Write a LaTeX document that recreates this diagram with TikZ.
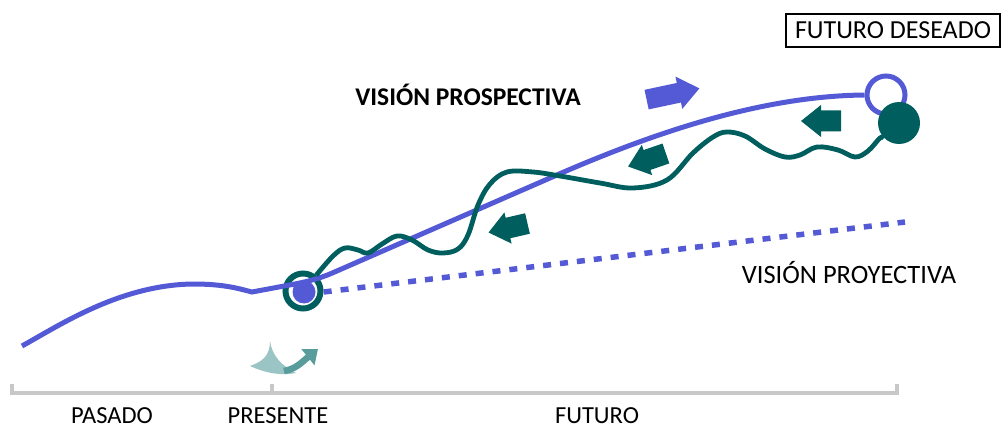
\documentclass[tikz,border=0pt]{standalone}
\usepackage{fontspec}
\setmainfont{Carlito}
\usetikzlibrary{arrows.meta}
\definecolor{vblue}{RGB}{84,90,214}
\definecolor{vteal}{RGB}{0,94,94}
\definecolor{lteal}{RGB}{155,196,196}
\definecolor{mteal}{RGB}{88,156,156}
\definecolor{tgray}{RGB}{200,200,200}
\begin{document}
\begin{tikzpicture}[x=1pt,y=-1pt,
  bluepath/.style={draw=vblue,line width=5pt},
  tealpath/.style={draw=vteal,line width=4.8pt},
  lbl/.style={font=\fontsize{24.5}{28}\selectfont, inner sep=0pt},
  greenarrow/.pic={\fill[vteal] (-20,-10.5) -- (0,-10.5) -- (0,-16) -- (20,0) -- (0,16) -- (0,10.5) -- (-20,10.5) -- cycle;},
  bluearrow/.pic={\fill[vblue] (-27,-10) -- (6,-10) -- (6,-16.5) -- (27,0) -- (6,16.5) -- (6,10) -- (-27,10) -- cycle;}
]
\useasboundingbox (0,0) rectangle (1003,430);

% timeline
\draw[tgray, line width=4pt] (12,384) -- (12,393) -- (897,393) -- (897,384);
\draw[tgray, line width=4pt] (272,393) -- (272,384);
\node[lbl] (pasado) at (112,416) {PASADO};
\node[lbl] (presente) at (278,416) {PRESENTE};
\node[lbl] (futuro) at (597,416) {FUTURO};

% nodes
\node[circle, fill=vblue, minimum size=23pt, inner sep=0pt] (dot) at (304,292) {};
\node[circle, draw=vteal, line width=6pt, minimum size=35pt, inner sep=0pt] (pres) at (303,291) {};
\node[circle, draw=vblue, line width=5pt, minimum size=38pt, inner sep=0pt] (fut) at (886,95) {};
\node[circle, fill=vteal, minimum size=42pt, inner sep=0pt] (des) at (899,123) {};
\coordinate (dotend) at (905,222);

% blue prospective curve
\draw[bluepath] (22,346) .. controls (60,325) and (120,285) .. (193,284)
  .. controls (225,284) and (240,289) .. (252,292) -- (295,284)
  .. controls (310,281) and (320,278) .. (330,274) -- (550,178)
  .. controls (650,134) and (760,96) .. (fut.west);

% dotted projective line
\draw[vblue, line width=5.5pt, dash pattern=on 8pt off 9pt] (dot.east) ++(8,0) -- (dotend);

% teal wavy path
\draw[tealpath] plot[smooth, tension=0.6] coordinates {(pres.50) (333,256) (345,248) (358,250) (368,253) (382,244) (397,236) (412,240) (428,250) (443,253) (458,249) (468,235) (478,205) (490,184) (507,172) (533,172) (560,176) (600,183) (633,188) (667,180) (693,153) (713,137) (727,132) (745,136) (765,149) (785,157) (800,155) (817,147) (838,150) (855,157) (868,151) (880,138) (des.225)};

% arrows
\pic[rotate=180] at (821,121) {greenarrow};
\pic[rotate=199] at (647,160) {greenarrow};
\pic[rotate=193] at (508,228) {greenarrow};
\pic[rotate=12] at (673,94) {bluearrow};

% small teal icon
\fill[lteal] (270,341) .. controls (270,357) and (261,362) .. (250,366) .. controls (265,373) and (281,376) .. (296,373) .. controls (282,366) and (272,356) .. (270,341) -- cycle;
\draw[mteal, line width=6.5pt, -{Triangle[length=13pt,width=20pt]}] (284,371) .. controls (296,369) and (302,362) .. (318,349);

% texts
\node[lbl, font=\fontsize{25.5}{28}\selectfont\bfseries] (prosp) at (468,95) {VISIÓN PROSPECTIVA};
\node[lbl, font=\fontsize{26.5}{28}\selectfont] (proy) at (849,273) {VISIÓN PROYECTIVA};
\node[draw, line width=1.3pt, minimum width=214pt, minimum height=33pt, inner sep=0pt, font=\fontsize{26}{28}\selectfont] (deseado) at (893,30.5) {FUTURO DESEADO};
\end{tikzpicture}
\end{document}
